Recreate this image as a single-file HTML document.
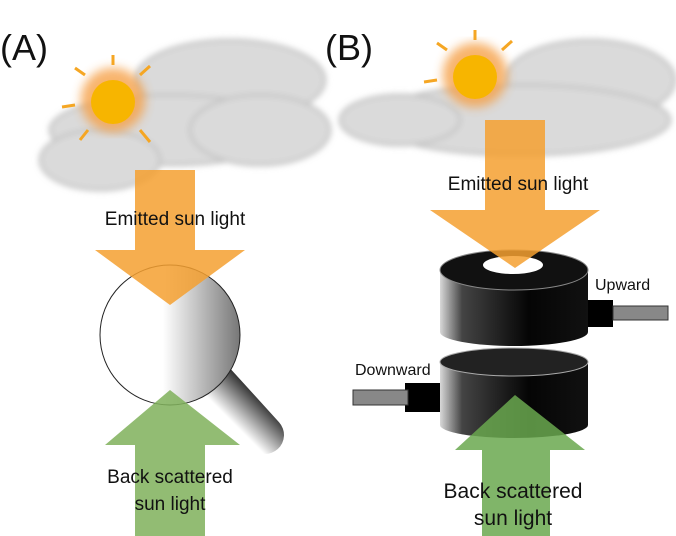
<!DOCTYPE html><html><head><style>body{margin:0;background:#fff}svg{display:block}text{font-family:"Liberation Sans",sans-serif;fill:#111}</style></head><body>
<svg width="676" height="536" viewBox="0 0 676 536">
<defs>
<linearGradient id="cyl" x1="0" x2="1"><stop offset="0" stop-color="#d8d8d8"/><stop offset="0.15" stop-color="#444"/><stop offset="0.6" stop-color="#050505"/><stop offset="1" stop-color="#111"/></linearGradient>
<linearGradient id="lens" x1="0" x2="1"><stop offset="0" stop-color="#fff"/><stop offset="0.45" stop-color="#fff"/><stop offset="1" stop-color="#777"/></linearGradient>
<linearGradient id="hand" gradientUnits="userSpaceOnUse" x1="230" y1="420" x2="260" y2="390"><stop offset="0" stop-color="#fff"/><stop offset="1" stop-color="#111"/></linearGradient>
<filter id="bl"><feGaussianBlur stdDeviation="3"/></filter>
<filter id="glow"><feGaussianBlur stdDeviation="5"/></filter>
</defs>
<g fill="#dadada" stroke="#c4c4c4" stroke-width="3" filter="url(#bl)">
<ellipse cx="230" cy="80" rx="95" ry="40"/><ellipse cx="170" cy="130" rx="120" ry="35"/><ellipse cx="100" cy="160" rx="60" ry="30"/><ellipse cx="260" cy="130" rx="70" ry="35"/>
<ellipse cx="590" cy="80" rx="85" ry="40"/><ellipse cx="520" cy="120" rx="150" ry="35"/><ellipse cx="400" cy="120" rx="60" ry="25"/>
</g>
<g stroke="#f39a3c" stroke-width="4" filter="url(#glow)" opacity=".8"><circle cx="113" cy="100" r="30" fill="#f7a24a"/><circle cx="475" cy="75" r="30" fill="#f7a24a"/></g>
<g stroke="#f5a623" stroke-width="3">
<line x1="113" y1="65" x2="113" y2="55"/><line x1="85" y1="75" x2="75" y2="68"/><line x1="75" y1="105" x2="62" y2="107"/><line x1="88" y1="130" x2="80" y2="140"/><line x1="140" y1="75" x2="150" y2="66"/><line x1="140" y1="130" x2="150" y2="142"/>
<line x1="475" y1="40" x2="475" y2="30"/><line x1="447" y1="50" x2="437" y2="43"/><line x1="437" y1="80" x2="424" y2="82"/><line x1="502" y1="50" x2="512" y2="41"/>
</g>
<circle cx="113" cy="102" r="22" fill="#f7b500"/><circle cx="475" cy="77" r="22" fill="#f7b500"/>
<text x="0" y="60" font-size="36">(A)</text><text x="325" y="60" font-size="36">(B)</text>
<!-- A -->
<line x1="215" y1="380" x2="265" y2="435" stroke="url(#hand)" stroke-width="38" stroke-linecap="round"/>
<circle cx="170" cy="335" r="70" fill="url(#lens)" stroke="#222" stroke-width="1"/>
<polygon points="135,170 195,170 195,250 245,250 170,305 95,250 135,250" fill="#f5a030" opacity=".85"/>
<text x="175" y="225" font-size="19" text-anchor="middle">Emitted sun light</text>
<polygon points="170,390 240,445 205,445 205,536 135,536 135,445 105,445" fill="#7fb05a" opacity=".85"/>
<text x="170" y="483" font-size="19" text-anchor="middle">Back scattered</text><text x="170" y="510" font-size="19" text-anchor="middle">sun light</text>
<!-- B -->
<rect x="587" y="300" width="26" height="27" fill="#000"/><rect x="613" y="306" width="55" height="14" fill="#888" stroke="#333"/>
<rect x="405" y="383" width="42" height="29" fill="#000"/><rect x="353" y="390" width="55" height="15" fill="#888" stroke="#333"/>
<path d="M440,362 L440,425 A74,13 0 0 0 588,425 L588,362 Z" fill="url(#cyl)"/>
<ellipse cx="514" cy="362" rx="74" ry="14" fill="#222" stroke="#aaa" stroke-width="1"/>
<path d="M440,270 L440,332 A74,14 0 0 0 588,332 L588,270 Z" fill="url(#cyl)"/>
<ellipse cx="514" cy="270" rx="74" ry="20" fill="#111" stroke="#888"/>
<ellipse cx="513" cy="265" rx="30" ry="9" fill="#fff"/>
<polygon points="485,120 545,120 545,210 600,210 515,268 430,210 485,210" fill="#f5a030" opacity=".85"/>
<text x="518" y="190" font-size="19" text-anchor="middle">Emitted sun light</text>
<text x="595" y="290" font-size="16">Upward</text><text x="355" y="375" font-size="16">Downward</text>
<polygon points="515,395 585,450 550,450 550,536 482,536 482,450 455,450" fill="#6aa84f" opacity=".85"/>
<text x="513" y="498" font-size="21" text-anchor="middle">Back scattered</text><text x="513" y="525" font-size="21" text-anchor="middle">sun light</text>
</svg></body></html>
